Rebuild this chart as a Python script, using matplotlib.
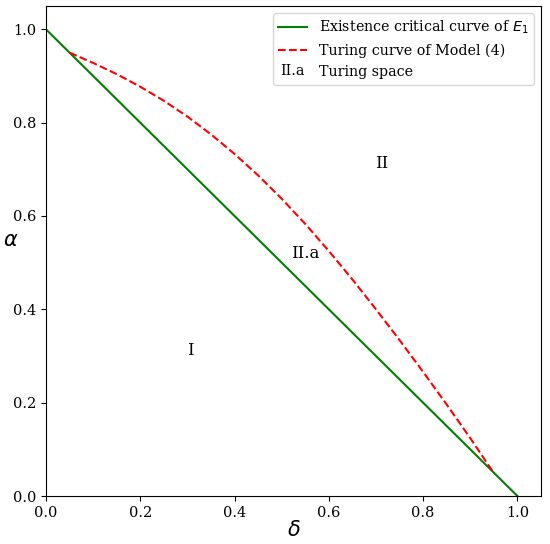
import numpy as np
import matplotlib.pyplot as plt
from matplotlib.legend_handler import HandlerBase
from matplotlib.text import Text

plt.rcParams['font.family'] = 'DejaVu Serif'
plt.rcParams['mathtext.fontset'] = 'dejavusans'

# Existence critical curve of E1 (straight line alpha = 1 - delta)
delta_line = [0.0, 1.0]
alpha_line = [1.0, 0.0]

# Turing curve of Model (4)
delta_turing = [0.05, 0.10, 0.15, 0.20, 0.25, 0.30, 0.35, 0.40, 0.45, 0.50,
                0.55, 0.60, 0.65, 0.70, 0.75, 0.80, 0.85, 0.90, 0.95]
alpha_turing = [0.950, 0.928, 0.904, 0.877, 0.847, 0.813, 0.775, 0.733, 0.687, 0.637,
                0.583, 0.525, 0.464, 0.400, 0.334, 0.266, 0.196, 0.124, 0.049]

# Region labels
region_labels = ["I", "II", "II.a"]
region_x = [0.307, 0.713, 0.55]
region_y = [0.312, 0.713, 0.52]


class TextHandler(HandlerBase):
    """Draws a short text in the legend handle slot"""

    def __init__(self, text):
        super().__init__()
        self.text = text

    def create_artists(self, legend, orig_handle, xdescent, ydescent,
                       width, height, fontsize, trans):
        txt = Text(width / 2 - xdescent, height / 2 - ydescent, self.text,
                   fontsize=fontsize, ha="center", va="center",
                   family="DejaVu Serif")
        txt.set_transform(trans)
        return [txt]


fig = plt.figure(figsize=(5.5, 5.44), dpi=100)
ax = fig.add_axes([0.0836, 0.0882, 0.9, 0.9008])

l1, = ax.plot(delta_line, alpha_line, color="green", lw=1.5)
l2, = ax.plot(delta_turing, alpha_turing, color="red", ls="--", lw=1.5)

for lab, x, y in zip(region_labels, region_x, region_y):
    ax.text(x, y, lab, fontsize=12, ha="center", va="center")

ax.set_xlim(0, 1.05)
ax.set_ylim(0, 1.05)
ax.set_xticks(np.arange(0, 1.01, 0.2))
ax.set_yticks(np.arange(0, 1.01, 0.2))
ax.tick_params(labelsize=10.5)
ax.set_xlabel(r"$\delta$", fontsize=15, va="center", ha="center")
ax.set_ylabel(r"$\alpha$", fontsize=15, rotation=0, va="center", ha="center")
ax.xaxis.set_label_coords(0.5, -0.07)
ax.yaxis.set_label_coords(-0.072, 0.522)

dummy = object()
ax.legend([l1, l2, dummy],
          [r"Existence critical curve of $E_1$", "Turing curve of Model (4)", "Turing space"],
          handler_map={dummy: TextHandler("II.a")},
          loc="upper right", fontsize=10.3)

fig.savefig("out.png")
